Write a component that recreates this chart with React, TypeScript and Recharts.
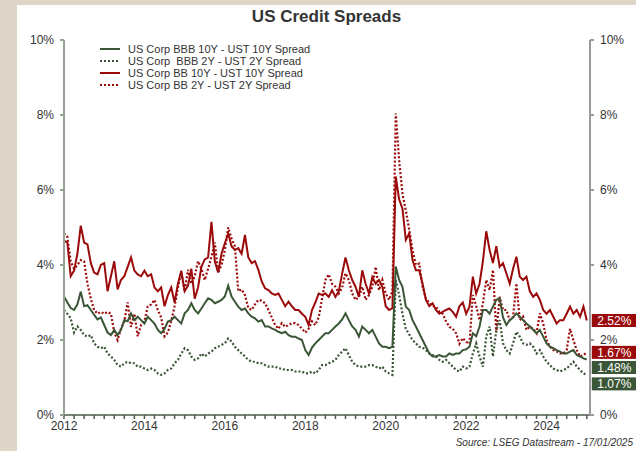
import { LineChart, Line, XAxis, YAxis } from "recharts";

// monthly readings, Jan 2012 .. Jan 2025 (in %)
const bbb10y = [
  3.16, 3.0, 2.85, 2.8, 2.95, 3.29, 2.9, 2.93, 2.8, 2.67, 2.55, 2.6,
  2.4, 2.2, 2.13, 2.27, 2.13, 2.27, 2.53, 2.5, 2.71, 2.53, 2.62, 2.53,
  2.44, 2.62, 2.53, 2.44, 2.27, 2.18, 2.3, 2.49, 2.53, 2.62, 2.53, 2.44,
  2.71, 2.8, 2.98, 2.8, 2.71, 2.84, 2.98, 3.11, 3.07, 2.98, 3.02, 3.07,
  3.16, 3.45, 3.16, 3.02, 2.89, 2.8, 2.84, 2.71, 2.62, 2.58, 2.49, 2.53,
  2.36, 2.36, 2.31, 2.27, 2.22, 2.18, 2.22, 2.13, 2.09, 2.09, 2.04, 2.0,
  1.73, 1.6, 1.8, 1.91, 2.0, 2.09, 2.18, 2.18, 2.27, 2.36, 2.44, 2.55,
  2.71, 2.53, 2.36, 2.27, 2.09, 2.36, 2.27, 2.18, 2.27, 2.09, 1.91, 1.82,
  1.82, 1.78, 1.82, 3.96, 3.6, 3.42, 2.89, 2.8, 2.53, 2.36, 2.18, 2.0,
  1.82, 1.64, 1.56, 1.56, 1.6, 1.56, 1.56, 1.64, 1.6, 1.64, 1.64, 1.73,
  1.75, 1.82, 2.18, 2.1, 2.36, 2.8, 2.8, 2.7, 2.89, 3.07, 3.11, 2.6,
  2.4, 2.53, 2.6, 2.71, 2.62, 2.53, 2.44, 2.36, 2.27, 2.18, 2.27, 2.09,
  1.91, 1.82, 1.78, 1.73, 1.69, 1.64, 1.64, 1.69, 1.73, 1.6, 1.56, 1.51,
  1.48,
];

const bbb2y = [
  2.8, 2.7, 2.58, 2.2, 2.36, 2.27, 2.13, 2.09, 2.13, 1.91, 1.82, 1.78,
  1.82, 1.64, 1.56, 1.47, 1.33, 1.29, 1.38, 1.42, 1.38, 1.38, 1.29, 1.29,
  1.24, 1.2, 1.24, 1.2, 1.11, 1.07, 1.11, 1.2, 1.24, 1.38, 1.47, 1.64,
  1.78, 1.73, 1.56, 1.47, 1.51, 1.64, 1.56, 1.64, 1.69, 1.78, 1.82, 1.87,
  1.91, 2.04, 1.96, 1.82, 1.73, 1.64, 1.56, 1.47, 1.42, 1.42, 1.38, 1.38,
  1.33, 1.29, 1.29, 1.29, 1.24, 1.24, 1.2, 1.2, 1.2, 1.16, 1.16, 1.16,
  1.11, 1.11, 1.16, 1.11, 1.2, 1.33, 1.33, 1.38, 1.42, 1.47, 1.6, 1.69,
  1.78, 1.6, 1.42, 1.33, 1.29, 1.29, 1.29, 1.33, 1.33, 1.29, 1.24, 1.29,
  1.16, 1.11, 1.07, 3.6, 3.2, 2.7, 2.3, 2.15, 2.0, 1.91, 1.82, 1.8,
  1.73, 1.64, 1.6, 1.56, 1.47, 1.42, 1.47, 1.38, 1.29, 1.2, 1.16, 1.29,
  1.24, 1.29, 1.64, 1.91, 1.56, 1.29, 2.09, 2.36, 1.56, 2.27, 2.53, 1.91,
  1.73, 1.64, 1.91, 2.22, 2.09, 1.91, 1.87, 1.91, 1.82, 1.64, 1.73, 1.56,
  1.42, 1.33, 1.24, 1.2, 1.16, 1.2, 1.24, 1.33, 1.42, 1.29, 1.2, 1.11,
  1.07,
];

const bb10y = [
  4.65, 4.6, 3.7, 3.85, 4.3, 5.05, 4.6, 4.55, 4.05, 3.8, 3.75, 4.0,
  4.05, 3.3, 3.7, 4.1, 3.35, 3.6, 3.7, 3.95, 4.2, 3.85, 3.75, 3.7,
  3.85, 3.7, 3.75, 3.4, 3.3, 3.4, 2.9, 3.2, 3.4, 3.0, 3.5, 3.85,
  3.3, 3.45, 3.9, 3.1, 3.4, 3.95, 4.15, 4.2, 5.15, 4.1, 3.8, 4.3,
  4.58, 4.84, 4.5, 4.4, 4.45, 4.3, 4.8, 4.2, 4.05, 4.1, 3.87, 3.56,
  3.38, 3.33, 3.24, 3.2, 3.24, 3.07, 2.9, 3.02, 2.9, 2.8, 2.8, 2.7,
  2.62, 2.4, 2.8, 3.0, 3.24, 3.2, 3.24, 3.15, 3.33, 3.15, 3.3, 3.77,
  4.2, 3.86, 3.6, 3.42, 3.15, 3.86, 3.5, 3.24, 3.68, 3.5, 3.6, 3.42,
  2.9, 2.8, 2.85, 6.36, 5.75, 5.5, 4.67, 4.84, 4.13, 3.86, 3.86, 3.5,
  3.07, 2.9, 2.98, 2.8, 2.7, 2.75, 2.8, 2.84, 2.75, 2.62, 2.9, 3.0,
  2.7, 2.89, 3.69, 3.24, 3.5, 4.1, 4.9, 4.4, 4.05, 4.5, 3.95, 4.05,
  3.78, 3.5, 3.9, 4.22, 3.69, 3.6, 3.69, 3.3, 3.15, 3.24, 3.07, 2.8,
  2.7, 2.8, 2.62, 2.44, 2.53, 2.53, 2.7, 2.89, 2.7, 2.8, 2.62, 2.89,
  2.52,
];

const bb2y = [
  4.85, 4.75, 4.1, 3.9, 4.0, 4.13, 4.1, 3.5, 3.1, 2.8, 2.7, 2.75,
  2.7, 2.75, 2.7, 2.2, 2.0, 2.3, 2.5, 3.0, 2.35, 2.7, 2.1, 2.4,
  2.5, 2.9, 2.95, 3.07, 2.8, 2.6, 2.1, 2.2, 2.5, 2.9, 3.4, 3.8,
  3.3, 3.87, 3.5, 3.7, 4.1, 3.9, 3.6, 3.9, 4.22, 4.6, 3.8, 4.0,
  4.4, 5.0, 4.7, 4.5, 3.3, 3.35, 3.2, 2.85, 2.8, 2.95, 3.07, 3.05,
  2.98, 2.8, 2.6, 2.4, 2.3, 2.45, 2.35, 2.4, 2.45, 2.45, 2.4, 2.3,
  2.2, 2.3, 2.5, 2.4, 2.6, 3.1, 3.6, 3.75, 3.5, 3.42, 3.24, 3.4,
  3.78, 3.6, 3.24, 3.07, 3.15, 3.42, 3.07, 3.2, 3.42, 3.95, 3.33, 3.6,
  3.24, 3.07, 3.3, 8.04, 6.8, 5.9, 5.45, 4.95, 4.4, 4.0, 4.04, 3.42,
  3.1, 3.0, 2.9, 2.89, 2.75, 2.7, 2.5, 2.35, 2.3, 2.18, 1.9, 2.05,
  1.95, 1.9, 3.2, 2.9, 2.53, 2.98, 3.6, 3.33, 3.87, 2.2, 3.15, 2.8,
  2.8, 2.53, 2.62, 3.51, 2.53, 2.62, 2.27, 2.36, 2.3, 2.18, 2.71, 2.44,
  2.0, 1.82, 1.73, 1.7, 1.64, 1.64, 1.73, 2.3, 2.0, 1.73, 1.56, 1.6,
  1.67,
];

const yearLabels = [2012, 2014, 2016, 2018, 2020, 2022, 2024];
const yTicks = [0, 2, 4, 6, 8, 10];
const startYear = 2012;

const GREEN = "#3a5636";
const RED = "#9b0a0a";

const series = [
  { key: "bb2y", name: "US Corp BB 2Y - UST 2Y Spread", color: RED, dotted: true, labelDy: 0 },
  { key: "bb10y", name: "US Corp BB 10Y - UST 10Y Spread", color: RED, dotted: false, labelDy: 0 },
  { key: "bbb2y", name: "US Corp  BBB 2Y - UST 2Y Spread", color: GREEN, dotted: true, labelDy: 9 },
  { key: "bbb10y", name: "US Corp BBB 10Y - UST 10Y Spread", color: GREEN, dotted: false, labelDy: 8 },
];
const legendOrder = ["bbb10y", "bbb2y", "bb10y", "bb2y"];

const data = bbb10y.map((_, i) => ({
  t: startYear + i / 12,
  bbb10y: bbb10y[i],
  bbb2y: bbb2y[i],
  bb10y: bb10y[i],
  bb2y: bb2y[i],
}));

const quarterTicks: number[] = [];
for (let q = 0; q <= 52; q++) quarterTicks.push(startYear + q / 4);

const last = data.length - 1;
const font = "'Liberation Sans', Arial, sans-serif";

const endLabel = (color: string, dy: number) => (props: any) => {
  const { x, y, index, value } = props;
  if (index !== last) return <g />;
  return (
    <g>
      <rect x={x + 5} y={y + dy - 6.5} width={45} height={13} fill={color} />
      <text
        x={x + 27.5}
        y={y + dy + 4.5}
        textAnchor="middle"
        fill="#ffffff"
        fontSize={12}
        fontFamily={font}
      >
        {Number(value).toFixed(2)}%
      </text>
    </g>
  );
};

const RightTick = (props: any) => {
  const { x, y, payload } = props;
  return (
    <text x={x} y={y + 4} fill="#333" fontSize={12} fontFamily={font} textAnchor="start">
      {payload.value}%
    </text>
  );
};

export default function App() {
  return (
    <div
      style={{
        position: "absolute",
        left: 0,
        top: 0,
        width: 636,
        height: 451,
        background: "#dcd5c8",
        fontFamily: font,
        overflow: "hidden",
      }}
    >
      <div style={{ position: "absolute", left: 17, top: 5, width: 619, height: 446, background: "#fff" }} />
      <div
        style={{
          position: "absolute",
          left: 17,
          width: 619,
          top: 7,
          textAlign: "center",
          fontSize: 17,
          fontWeight: "bold",
          color: "#333",
        }}
      >
        US Credit Spreads
      </div>

      <div style={{ position: "absolute", left: 0, top: 0 }}>
        <LineChart width={636} height={451} data={data} margin={{ top: 40, right: 0, left: 0, bottom: 16 }}>
          <XAxis
            dataKey="t"
            type="number"
            domain={[2012, 2025.08]}
            ticks={quarterTicks}
            interval={0}
            tickFormatter={(v: number) => (yearLabels.includes(v) ? String(v) : "")}
            height={20}
            tickSize={4}
            tickMargin={2}
            stroke="#4d5a4b"
            strokeWidth={1.5}
            tick={{ fill: "#333", fontSize: 12, fontFamily: font }}
          />
          <YAxis
            yAxisId="left"
            domain={[0, 10]}
            ticks={yTicks}
            interval={0}
            width={64}
            tickSize={4}
            tickMargin={6}
            stroke="#94a392"
            strokeWidth={2}
            tickFormatter={(v: number) => `${v}%`}
            tick={{ fill: "#333", fontSize: 12, fontFamily: font }}
          />
          <YAxis
            yAxisId="right"
            orientation="right"
            domain={[0, 10]}
            ticks={yTicks}
            interval={0}
            allowDataOverflow
            width={46}
            tickSize={4}
            tickMargin={6}
            stroke="#9a9a9a"
            strokeWidth={2}
            tick={<RightTick />}
          />
          <Line
            yAxisId="right"
            dataKey="bb10y"
            stroke="none"
            dot={false}
            activeDot={false}
            legendType="none"
            isAnimationActive={false}
          />
          {series.map((s) => (
            <Line
              key={s.key}
              yAxisId="left"
              type="linear"
              dataKey={s.key}
              stroke={s.color}
              strokeWidth={s.dotted ? 2.2 : 2}
              strokeDasharray={s.dotted ? "2 2" : undefined}
              dot={false}
              isAnimationActive={false}
              label={endLabel(s.color, s.labelDy)}
            />
          ))}
        </LineChart>
      </div>

      <div style={{ position: "absolute", left: 98, top: 43, fontSize: 11, color: "#333", lineHeight: "12px" }}>
        {legendOrder.map((k) => {
          const s = series.find((x) => x.key === k)!;
          return (
            <div key={k} style={{ display: "flex", alignItems: "center", height: 12 }}>
              <svg width={26} height={12}>
                <line
                  x1={2}
                  x2={22}
                  y1={6}
                  y2={6}
                  stroke={s.color}
                  strokeWidth={2}
                  strokeDasharray={s.dotted ? "2 2" : undefined}
                />
              </svg>
              <span style={{ whiteSpace: "pre", marginLeft: 4 }}>{s.name}</span>
            </div>
          );
        })}
      </div>

      <div
        style={{
          position: "absolute",
          right: 3,
          top: 437,
          fontSize: 10,
          fontStyle: "italic",
          color: "#333",
        }}
      >
        Source: LSEG Datastream - 17/01/2025
      </div>
    </div>
  );
}
